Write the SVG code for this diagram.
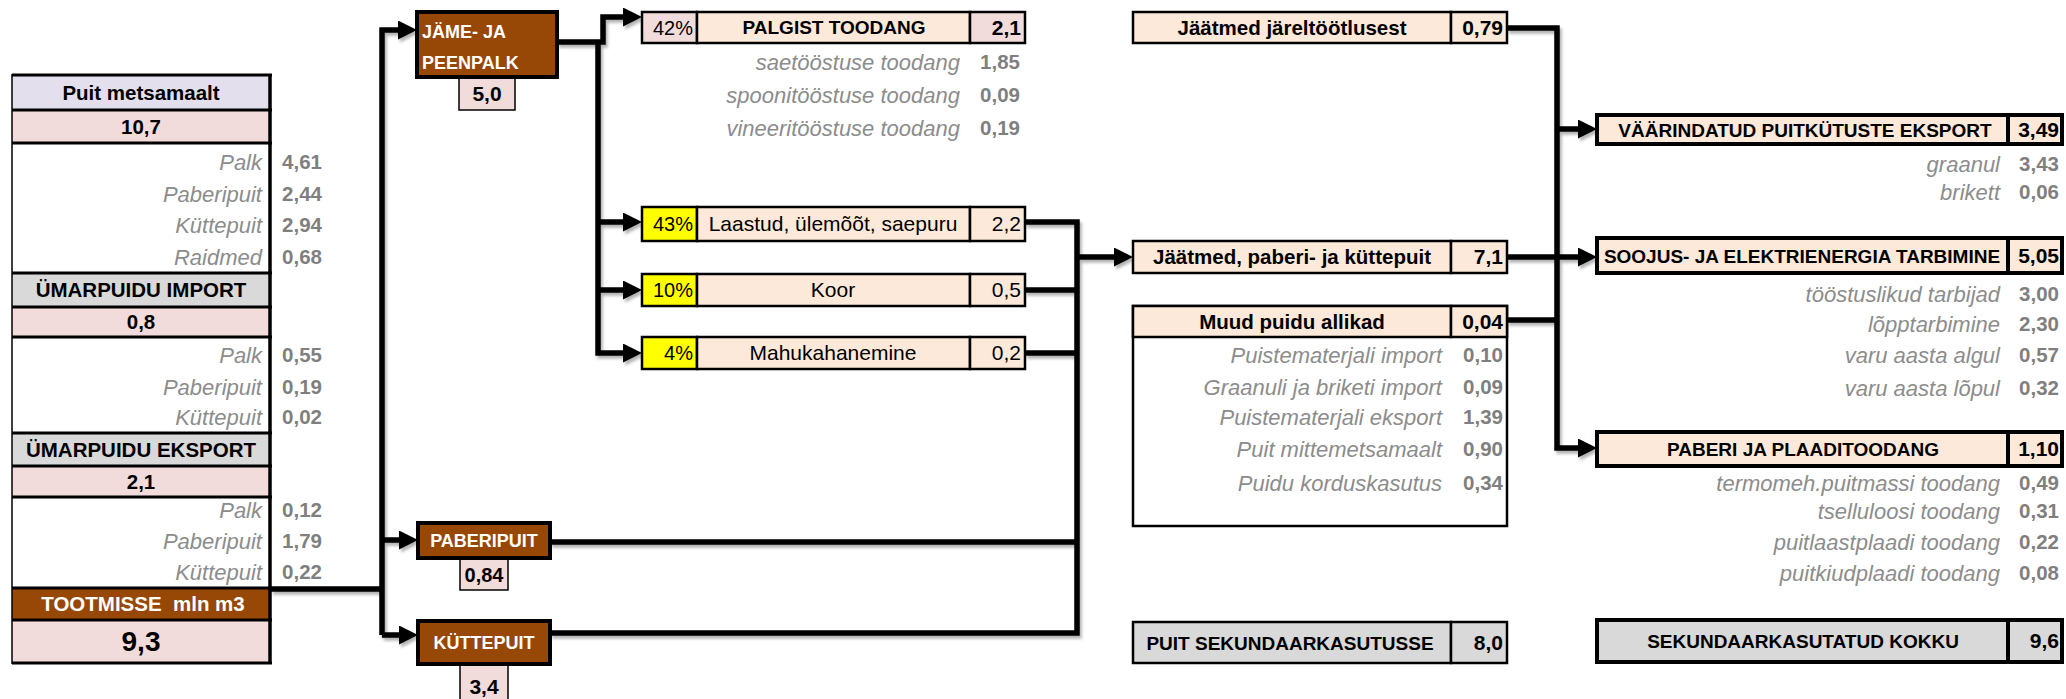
<svg xmlns="http://www.w3.org/2000/svg" width="2066" height="699" viewBox="0 0 2066 699">
<style>
text{font-family:"Liberation Sans",Arial,sans-serif}
.b{font-weight:bold}
.c{text-anchor:middle}
.e{text-anchor:end}
.lab{font-style:italic;font-size:22px;fill:#8c8c8c;text-anchor:end}
.val{font-weight:bold;font-size:20.5px;fill:#7f7f7f;text-anchor:end}
.brown{fill:#974706;stroke:#000;stroke-width:4}
.pink{fill:#f2dcdb}
.peach{fill:#fde9d9}
.gray{fill:#d9d9d9}
.yel{fill:#ffff00}
.bx{stroke:#000;stroke-width:2.5}
.bx4{stroke:#000;stroke-width:4}
.sep{stroke:#000;stroke-width:3}
.wt{fill:#fff;font-weight:bold;font-size:18px}
.h19{font-weight:bold;font-size:19px;text-anchor:middle}
.h20{font-weight:bold;font-size:20.5px;text-anchor:middle}
.v21{font-weight:bold;font-size:21px;text-anchor:end}
.r21{font-size:21px}
.conn{fill:none;stroke:#000;stroke-width:5.5;stroke-linejoin:miter}
.arr{marker-end:url(#ah)}
</style>
<defs>
<marker id="ah" markerUnits="userSpaceOnUse" markerWidth="19" markerHeight="19" refX="7" refY="9.5" orient="auto">
<path d="M0,0 L19,9.5 L0,19 z" fill="#000"/>
</marker>
<filter id="sh" filterUnits="userSpaceOnUse" x="0" y="0" width="2066" height="699">
<feDropShadow dx="2" dy="3" stdDeviation="1.5" flood-color="#000" flood-opacity="0.3"/>
</filter>
</defs>
<rect width="2066" height="699" fill="#fff"/>

<!-- left source table -->
<g id="source-table">
<rect x="12" y="75" width="259" height="35" fill="#e4dfec"/>
<rect x="12" y="110" width="259" height="33" class="pink"/>
<rect x="12" y="143" width="259" height="130" fill="#fff"/>
<rect x="12" y="273" width="259" height="34" class="gray"/>
<rect x="12" y="307" width="259" height="30" class="pink"/>
<rect x="12" y="337" width="259" height="96" fill="#fff"/>
<rect x="12" y="433" width="259" height="33" class="gray"/>
<rect x="12" y="466" width="259" height="31" class="pink"/>
<rect x="12" y="497" width="259" height="91" fill="#fff"/>
<rect x="12" y="588" width="259" height="32" fill="#974706"/>
<rect x="12" y="620" width="259" height="43" class="pink"/>
<g class="sep">
<line x1="12" y1="75" x2="272" y2="75"/>
<line x1="12" y1="110" x2="272" y2="110"/>
<line x1="12" y1="143" x2="272" y2="143"/>
<line x1="12" y1="273" x2="272" y2="273"/>
<line x1="12" y1="307" x2="272" y2="307"/>
<line x1="12" y1="337" x2="272" y2="337"/>
<line x1="12" y1="433" x2="272" y2="433"/>
<line x1="12" y1="466" x2="272" y2="466"/>
<line x1="12" y1="497" x2="272" y2="497"/>
<line x1="12" y1="588" x2="272" y2="588"/>
<line x1="12" y1="620" x2="272" y2="620"/>
<line x1="12" y1="663" x2="272" y2="663"/>
</g>
<line x1="12" y1="74" x2="12" y2="664" stroke="#000" stroke-width="1.5"/>
<line x1="270" y1="74" x2="270" y2="664" stroke="#000" stroke-width="3.5"/>
<text x="141" y="100" class="h20">Puit metsamaalt</text>
<text x="141" y="134" class="h20">10,7</text>
<text x="262" y="170" class="lab">Palk</text><text x="322" y="169" class="val">4,61</text>
<text x="262" y="202" class="lab">Paberipuit</text><text x="322" y="201" class="val">2,44</text>
<text x="262" y="233" class="lab">Küttepuit</text><text x="322" y="232" class="val">2,94</text>
<text x="262" y="265" class="lab">Raidmed</text><text x="322" y="264" class="val">0,68</text>
<text x="141" y="297" class="h20">ÜMARPUIDU IMPORT</text>
<text x="141" y="329" class="h20">0,8</text>
<text x="262" y="363" class="lab">Palk</text><text x="322" y="362" class="val">0,55</text>
<text x="262" y="395" class="lab">Paberipuit</text><text x="322" y="394" class="val">0,19</text>
<text x="262" y="425" class="lab">Küttepuit</text><text x="322" y="424" class="val">0,02</text>
<text x="141" y="457" class="h20" font-size="20">ÜMARPUIDU EKSPORT</text>
<text x="141" y="489" class="h20">2,1</text>
<text x="262" y="518" class="lab">Palk</text><text x="322" y="517" class="val">0,12</text>
<text x="262" y="549" class="lab">Paberipuit</text><text x="322" y="548" class="val">1,79</text>
<text x="262" y="580" class="lab">Küttepuit</text><text x="322" y="579" class="val">0,22</text>
<text x="143" y="611" class="h20" fill="#fff" font-size="20" xml:space="preserve">TOOTMISSE  mln m3</text>
<text x="141" y="651" class="b c" font-size="28">9,3</text>
</g>

<!-- connectors -->
<g id="connectors" class="conn" filter="url(#sh)">
<path d="M271,589 H382"/>
<path d="M382,635 V30 H405" class="arr"/>
<path d="M382,540 H406" class="arr"/>
<path d="M382,635 H406" class="arr"/>
<path d="M557,42 H603 V17 H630" class="arr"/>
<path d="M598,42 V353 H630" class="arr"/>
<path d="M598,222 H630" class="arr"/>
<path d="M598,290 H630" class="arr"/>
<path d="M1025,222 H1077 V633 H550"/>
<path d="M1025,290 H1077"/>
<path d="M1025,353 H1077"/>
<path d="M550,542 H1077"/>
<path d="M1077,257 H1121" class="arr"/>
<path d="M1507,28 H1557 V448 H1585" class="arr"/>
<path d="M1557,129 H1585" class="arr"/>
<path d="M1507,257 H1585" class="arr"/>
<path d="M1507,320 H1557"/>
</g>

<!-- brown nodes -->
<g id="jame-peenpalk">
<rect x="459" y="77" width="56" height="33" class="pink" stroke="#000" stroke-width="1.5"/>
<rect x="417" y="12" width="140" height="65" class="brown"/>
<text x="422" y="38" class="wt" font-size="19.5">JÄME- JA</text>
<text x="422" y="69" class="wt" font-size="19.5">PEENPALK</text>
<text x="487" y="101" class="b c" font-size="21">5,0</text>
</g>
<g id="paberipuit">
<rect x="460" y="558" width="48" height="32" class="pink" stroke="#000" stroke-width="1.5"/>
<rect x="418" y="523" width="132" height="35" class="brown"/>
<text x="484" y="547" class="wt c">PABERIPUIT</text>
<text x="484" y="582" class="b c" font-size="20">0,84</text>
</g>
<g id="kuttepuit">
<rect x="460" y="664" width="48" height="40" class="pink" stroke="#000" stroke-width="1.5"/>
<rect x="418" y="621" width="132" height="43" class="brown"/>
<text x="484" y="649" class="wt c">KÜTTEPUIT</text>
<text x="484" y="694" class="b c" font-size="21">3,4</text>
</g>

<!-- sawn products -->
<g id="palgist-toodang">
<rect x="642" y="12" width="55" height="31" class="pink bx"/>
<rect x="697" y="12" width="273" height="31" class="peach bx"/>
<rect x="970" y="12" width="55" height="31" class="pink bx"/>
<text x="693" y="35" font-size="20" class="e">42%</text>
<text x="834" y="34" class="h19">PALGIST TOODANG</text>
<text x="1021" y="35" class="v21">2,1</text>
<text x="960" y="70" class="lab">saetööstuse toodang</text><text x="1020" y="69" class="val">1,85</text>
<text x="960" y="103" class="lab">spoonitööstuse toodang</text><text x="1020" y="102" class="val">0,09</text>
<text x="960" y="136" class="lab">vineeritööstuse toodang</text><text x="1020" y="135" class="val">0,19</text>
</g>
<g id="laastud">
<rect x="642" y="207" width="55" height="34" class="yel bx"/>
<rect x="697" y="207" width="273" height="34" class="peach bx"/>
<rect x="970" y="207" width="55" height="34" class="peach bx"/>
<text x="693" y="231" font-size="20" class="e">43%</text>
<text x="833" y="231" class="r21 c">Laastud, ülemõõt, saepuru</text>
<text x="1021" y="231" class="r21 e">2,2</text>
</g>
<g id="koor">
<rect x="642" y="274" width="55" height="32" class="yel bx"/>
<rect x="697" y="274" width="273" height="32" class="peach bx"/>
<rect x="970" y="274" width="55" height="32" class="peach bx"/>
<text x="693" y="297" font-size="20" class="e">10%</text>
<text x="833" y="297" class="r21 c">Koor</text>
<text x="1021" y="297" class="r21 e">0,5</text>
</g>
<g id="mahukahanemine">
<rect x="642" y="337" width="55" height="32" class="yel bx"/>
<rect x="697" y="337" width="273" height="32" class="peach bx"/>
<rect x="970" y="337" width="55" height="32" class="peach bx"/>
<text x="693" y="360" font-size="20" class="e">4%</text>
<text x="833" y="360" class="r21 c">Mahukahanemine</text>
<text x="1021" y="360" class="r21 e">0,2</text>
</g>

<!-- middle right column -->
<g id="jaatmed-jareltootlusest">
<rect x="1133" y="12" width="318" height="31" class="peach bx"/>
<rect x="1451" y="12" width="56" height="31" class="peach bx"/>
<text x="1292" y="35" class="h20" font-size="19.5">Jäätmed järeltöötlusest</text>
<text x="1503" y="35" class="v21">0,79</text>
</g>
<g id="jaatmed-paberi-kuttepuit">
<rect x="1133" y="241" width="318" height="32" class="peach bx"/>
<rect x="1451" y="241" width="56" height="32" class="peach bx"/>
<text x="1292" y="264" class="h20" font-size="20">Jäätmed, paberi- ja küttepuit</text>
<text x="1503" y="264" class="v21">7,1</text>
</g>
<g id="muud-puidu-allikad">
<rect x="1133" y="306" width="374" height="220" fill="#fff" class="bx"/>
<rect x="1133" y="306" width="318" height="31" class="peach bx"/>
<rect x="1451" y="306" width="56" height="31" class="peach bx"/>
<text x="1292" y="329" class="h20">Muud puidu allikad</text>
<text x="1503" y="329" class="v21">0,04</text>
<text x="1442" y="363" class="lab">Puistematerjali import</text><text x="1503" y="362" class="val">0,10</text>
<text x="1442" y="395" class="lab">Graanuli ja briketi import</text><text x="1503" y="394" class="val">0,09</text>
<text x="1442" y="425" class="lab">Puistematerjali eksport</text><text x="1503" y="424" class="val">1,39</text>
<text x="1442" y="457" class="lab">Puit mittemetsamaalt</text><text x="1503" y="456" class="val">0,90</text>
<text x="1442" y="491" class="lab">Puidu korduskasutus</text><text x="1503" y="490" class="val">0,34</text>
</g>
<g id="puit-sekundaarkasutusse">
<rect x="1133" y="622" width="318" height="41" class="gray bx"/>
<rect x="1451" y="622" width="56" height="41" class="gray bx"/>
<text x="1290" y="650" class="h19">PUIT SEKUNDAARKASUTUSSE</text>
<text x="1503" y="650" class="v21">8,0</text>
</g>

<!-- right column -->
<g id="vaarindatud-eksport">
<rect x="1597" y="115" width="411" height="29" class="peach bx4"/>
<rect x="2008" y="115" width="54" height="29" class="peach bx4"/>
<text x="1805" y="137" class="h19">VÄÄRINDATUD PUITKÜTUSTE EKSPORT</text>
<text x="2059" y="137" class="v21">3,49</text>
<text x="2000" y="172" class="lab">graanul</text><text x="2059" y="171" class="val">3,43</text>
<text x="2000" y="200" class="lab">brikett</text><text x="2059" y="199" class="val">0,06</text>
</g>
<g id="soojus-elektrienergia">
<rect x="1597" y="238" width="411" height="35" class="peach bx4"/>
<rect x="2008" y="238" width="54" height="35" class="peach bx4"/>
<text x="1802" y="263" class="h19">SOOJUS- JA ELEKTRIENERGIA TARBIMINE</text>
<text x="2059" y="263" class="v21">5,05</text>
<text x="2000" y="302" class="lab">tööstuslikud tarbijad</text><text x="2059" y="301" class="val">3,00</text>
<text x="2000" y="332" class="lab">lõpptarbimine</text><text x="2059" y="331" class="val">2,30</text>
<text x="2000" y="363" class="lab">varu aasta algul</text><text x="2059" y="362" class="val">0,57</text>
<text x="2000" y="396" class="lab">varu aasta lõpul</text><text x="2059" y="395" class="val">0,32</text>
</g>
<g id="paberi-plaaditoodang">
<rect x="1597" y="432" width="411" height="34" class="peach bx4"/>
<rect x="2008" y="432" width="54" height="34" class="peach bx4"/>
<text x="1803" y="456" class="h19">PABERI JA PLAADITOODANG</text>
<text x="2059" y="456" class="v21">1,10</text>
<text x="2000" y="491" class="lab">termomeh.puitmassi toodang</text><text x="2059" y="490" class="val">0,49</text>
<text x="2000" y="519" class="lab">tselluloosi toodang</text><text x="2059" y="518" class="val">0,31</text>
<text x="2000" y="550" class="lab">puitlaastplaadi toodang</text><text x="2059" y="549" class="val">0,22</text>
<text x="2000" y="581" class="lab">puitkiudplaadi toodang</text><text x="2059" y="580" class="val">0,08</text>
</g>
<g id="sekundaarkasutatud-kokku">
<rect x="1597" y="620" width="411" height="42" class="gray bx4"/>
<rect x="2008" y="620" width="54" height="42" class="gray bx4"/>
<text x="1803" y="648" class="h19">SEKUNDAARKASUTATUD KOKKU</text>
<text x="2059" y="648" class="v21">9,6</text>
</g>
</svg>
